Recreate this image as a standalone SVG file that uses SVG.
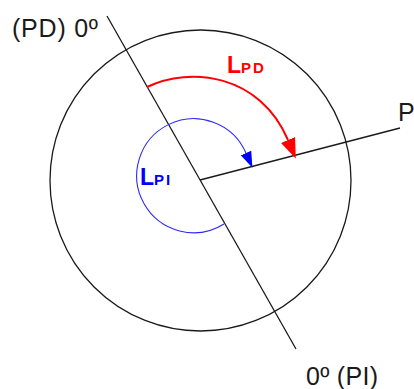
<svg xmlns="http://www.w3.org/2000/svg" width="414" height="389" viewBox="0 0 414 389">
<style>
.ln{fill:none;stroke:#1a1a1a;stroke-width:1.3}
.lbl{font-family:"Liberation Sans",Arial,sans-serif;font-size:25px;fill:#1a1a1a}
.big{font-family:"Liberation Sans",Arial,sans-serif;font-weight:bold;font-size:23px}
.sub{font-family:"Liberation Sans",Arial,sans-serif;font-weight:bold;font-size:15px;letter-spacing:2px}
</style>
<defs>
<marker id="ar" markerUnits="userSpaceOnUse" markerWidth="20" markerHeight="16" refX="0" refY="6.5" orient="auto" viewBox="0 0 17 13">
<path d="M0,0 L17,6.5 L0,13 Z" fill="#ff0000"/>
</marker>
<marker id="ab" markerUnits="userSpaceOnUse" markerWidth="16" markerHeight="12" refX="0" refY="5" orient="auto" viewBox="0 0 14 10">
<path d="M0,0 L14,5 L0,10 Z" fill="#0000ff"/>
</marker>
</defs>
<g id="circle"><circle class="ln" cx="200.5" cy="180.5" r="150.5"/></g>
<g id="connectors">
<line class="ln" x1="107" y1="16" x2="296" y2="349"/>
<line class="ln" x1="200" y1="180" x2="400" y2="128"/>
<path id="lpd-arc" d="M147,87 C190,66 260,74 288,140" fill="none" stroke="#ff0000" stroke-width="2" marker-end="url(#ar)"/>
<path id="lpi-arc" d="M224,224 A57,57 0 1 1 246,153" fill="none" stroke="#2a2aff" stroke-width="1.1" marker-end="url(#ab)"/>
</g>
<g id="labels">
<text class="lbl" x="12" y="37" textLength="86">(PD) 0º</text>
<text class="lbl" x="306" y="385" textLength="72">0º (PI)</text>
<text class="lbl" x="398" y="121">P</text>
<text x="227" y="73" fill="#ff0000"><tspan class="big">L</tspan><tspan class="sub">PD</tspan></text>
<text x="140" y="185" fill="#0000ff"><tspan class="big">L</tspan><tspan class="sub">PI</tspan></text>
</g>
</svg>
